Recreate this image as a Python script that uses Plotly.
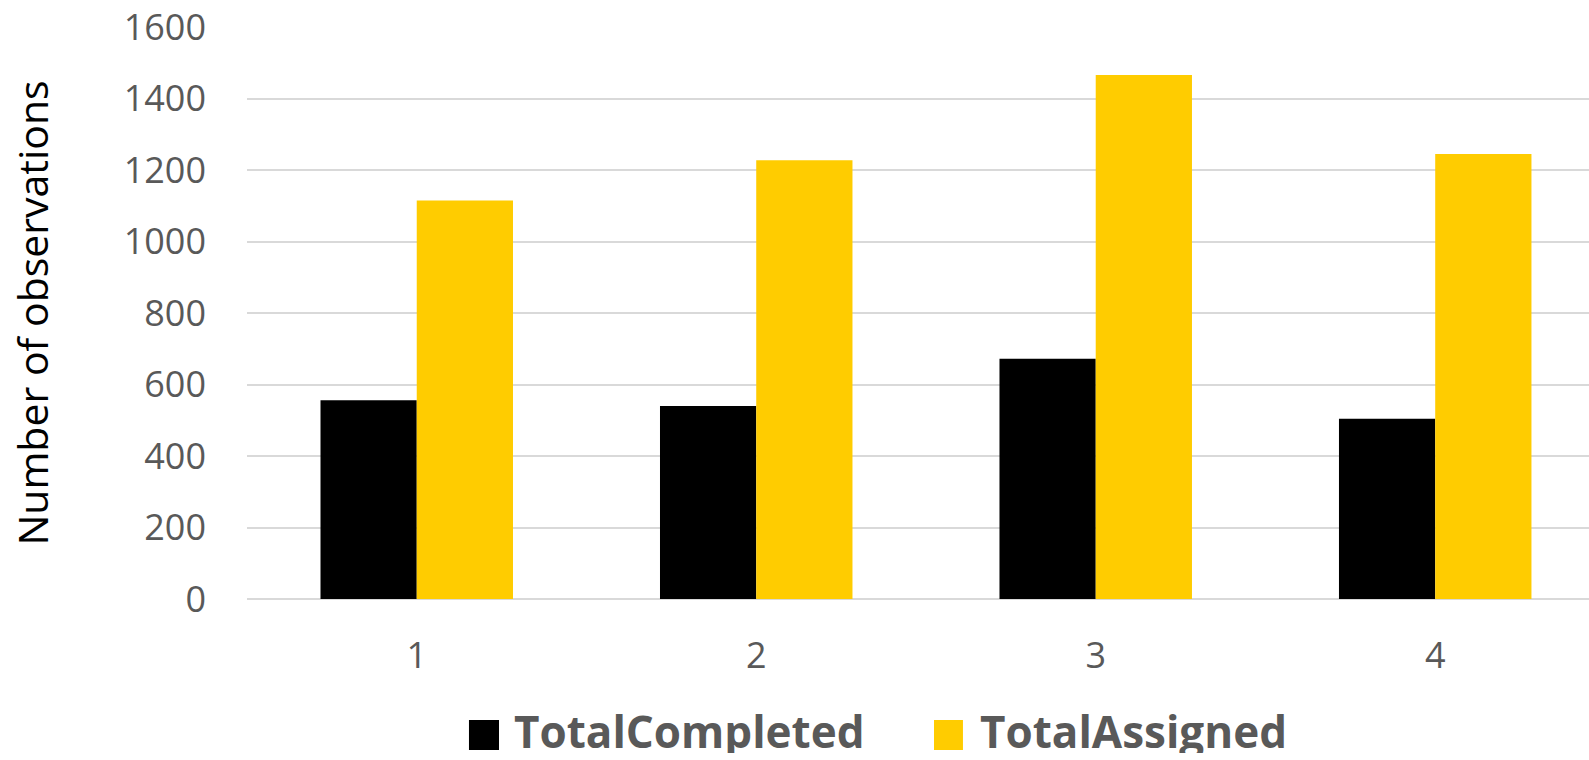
import plotly.graph_objects as go

# Survey rounds and observation counts per round
rounds = [1, 2, 3, 4]
total_completed = [556, 540, 672, 504]
total_assigned = [1115, 1227, 1466, 1245]
y_ticks = [0, 200, 400, 600, 800, 1000, 1200, 1400, 1600]

BLACK = "#000000"
YELLOW = "#FFCC00"
GRID = "#D9D9D9"
LABEL = "#595959"
FONT = "Open Sans"

fig = go.Figure()
fig.add_trace(go.Bar(x=rounds, y=total_completed, name="TotalCompleted",
                     marker=dict(color=BLACK, line=dict(width=0))))
fig.add_trace(go.Bar(x=rounds, y=total_assigned, name="TotalAssigned",
                     marker=dict(color=YELLOW, line=dict(width=0))))

# Legend drawn as square swatches and bold labels below the plot
legend_items = [
    ("TotalCompleted", BLACK, 0.1654, 0.1878, 0.1975),
    ("TotalAssigned", YELLOW, 0.5119, 0.5335, 0.5447),
]
for label, color, x0, x1, xt in legend_items:
    fig.add_shape(type="rect", xref="paper", yref="paper",
                  x0=x0, x1=x1, y0=-0.264, y1=-0.2115,
                  fillcolor=color, line=dict(width=0))
    fig.add_annotation(xref="paper", yref="paper", x=xt, y=-0.2305,
                       xanchor="left", yanchor="middle", showarrow=False,
                       height=44, valign="middle",
                       text=f"<b>{label}</b>",
                       font=dict(family=FONT, size=44, color=LABEL))

fig.update_layout(
    width=1589, height=760,
    margin=dict(l=247, r=0, t=27, b=161),
    paper_bgcolor="white", plot_bgcolor="white",
    barmode="group", bargap=0.433, bargroupgap=0,
    showlegend=False,
    font=dict(family=FONT, color=LABEL),
)
fig.update_xaxes(
    range=[0.5, 4.453], tickvals=rounds, ticktext=[str(r) for r in rounds],
    showgrid=False, zeroline=False, showline=False,
    tickfont=dict(size=36, color=LABEL), ticklabelstandoff=32,
)
fig.update_yaxes(
    range=[0, 1600], tickvals=y_ticks, showgrid=True, gridcolor=GRID, gridwidth=2,
    zeroline=True, zerolinecolor=GRID, zerolinewidth=2, showline=False,
    tickfont=dict(size=36, color=LABEL), ticklabelstandoff=40,
    title=dict(text="Number of observations", standoff=62,
               font=dict(family=FONT, size=41, color="#000000")),
    automargin=False,
)

fig.write_html("out.html")
